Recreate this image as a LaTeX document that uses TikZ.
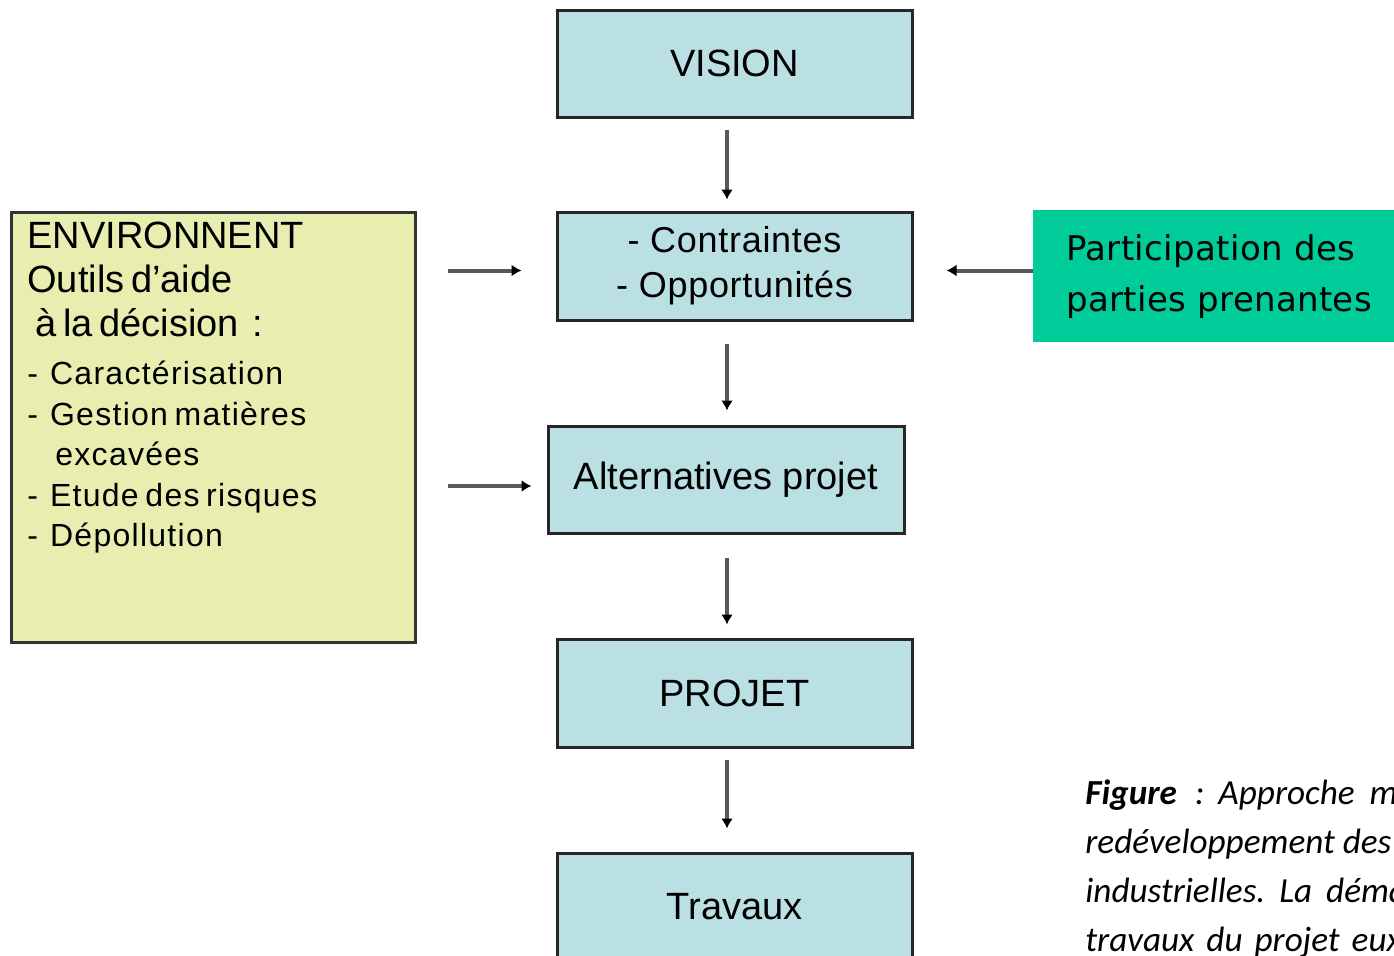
\documentclass[tikz,border=0pt]{standalone}
\usepackage{fontspec}
\setmainfont{Liberation Sans}
\newfontfamily\listfont[LetterSpace=4]{Liberation Sans}
\newfontfamily\midfont[LetterSpace=2]{Liberation Sans}
\newfontfamily\partfont[LetterSpace=1]{DejaVu Sans}
\newfontfamily\capfont{Carlito}
\usepackage{xcolor}
\usetikzlibrary{arrows.meta, positioning, calc}
\setlength{\parindent}{0pt}
\definecolor{boxblue}{RGB}{186,224,227}
\definecolor{envyellow}{RGB}{232,238,176}
\definecolor{partgreen}{RGB}{0,204,153}
\definecolor{arrowgray}{RGB}{89,89,89}
\newcommand{\lsp}{\hspace{6pt}}

\begin{document}
\begin{tikzpicture}[x=0.5pt, y=-0.5pt]
\tikzstyle{stage} = [rectangle, draw=black!85, line width=1.5pt, fill=boxblue, minimum width=177.5pt, minimum height=53.5pt, font=\fontsize{19}{22}\selectfont]
\tikzstyle{arrow} = [draw=arrowgray, line width=2pt, -{Latex[black, length=5pt, width=6pt]}]

\useasboundingbox (0,0) rectangle (1394,955);

% main chain
\node (vision) [stage] at (734.5,63.5) {VISION};
\node (contr) [stage, below=46pt of vision, minimum height=54pt, align=center, font=\midfont\fontsize{18}{22.5}\selectfont] {- Contraintes\\- Opportunités};
\node (alt) [stage, below=51.5pt of contr, xshift=-4.25pt, minimum width=178pt] {Alternatives projet};
\node (projet) [stage, below=51.5pt of alt, xshift=4.25pt, minimum height=54pt] {PROJET};
\node (travaux) [stage, below=51.5pt of projet] {Travaux};

% side boxes
\node (env) [rectangle, draw=black!80, line width=1.5pt, fill=envyellow, minimum width=202pt, minimum height=215pt, anchor=north west] at (10,211) {};
\node (envtext) [anchor=north west, inner sep=0pt, text width=195pt, align=left] at (27,222) {%
{\fontsize{19}{22}\selectfont ENVIRONNENT\par Outils d'aide\par \hspace*{4pt}à la décision~~:\par}
\vspace{3.8pt}
{\listfont\fontsize{16}{20.2}\selectfont -\lsp Caractérisation\par -\lsp Gestion matières\par \hspace*{14pt}excavées\par -\lsp Etude des risques\par -\lsp Dépollution\par}};
\node (part) [rectangle, fill=partgreen, anchor=north west, minimum height=66pt, text width=170pt, inner xsep=16.5pt, align=left, font=\partfont\fontsize{17}{25.5}\selectfont] at (1033,210) {Participation des\\parties prenantes};

\node (caption) [anchor=base west, align=left, inner sep=0pt, font=\capfont\itshape\fontsize{17.6}{24.5}\selectfont] at (1085,951) {\textbf{Figure}\hspace{9pt}:\hspace{7pt}Approche\hspace{7.5pt}méthodologique\\redéveloppement des friches\\industrielles.\hspace{7pt}La\hspace{7pt}démarche\\travaux\hspace{6pt}du\hspace{6pt}projet\hspace{6pt}eux};

% arrows
\draw [arrow, shorten <=5.5pt, shorten >=5.5pt] ([xshift=-3.75pt]vision.south) -- ([xshift=-3.75pt]contr.north);
\draw [arrow, shorten <=11pt, shorten >=7pt] ([xshift=-3.75pt]contr.south) -- ([xshift=0.5pt]alt.north);
\draw [arrow, shorten <=11.5pt, shorten >=6.5pt] ([xshift=0.5pt]alt.south) -- ([xshift=-3.75pt]projet.north);
\draw [arrow, shorten <=5.5pt, shorten >=11.5pt] ([xshift=-3.75pt]projet.south) -- ([xshift=-3.75pt]travaux.north);
\draw [arrow, shorten <=15.5pt, shorten >=17pt] ($(env.east |- contr.west)+(0,4.5)$) -- ($(contr.west)+(0,4.5)$);
\draw [arrow, shorten <=15.5pt, shorten >=7.5pt] ($(env.east |- alt.west)+(0,6.5)$) -- ($(alt.west)+(0,6.5)$);
\draw [arrow, shorten >=16.5pt] ($(part.west |- contr.east)+(0,4.5)$) -- ($(contr.east)+(0,4.5)$);

\end{tikzpicture}
\end{document}
